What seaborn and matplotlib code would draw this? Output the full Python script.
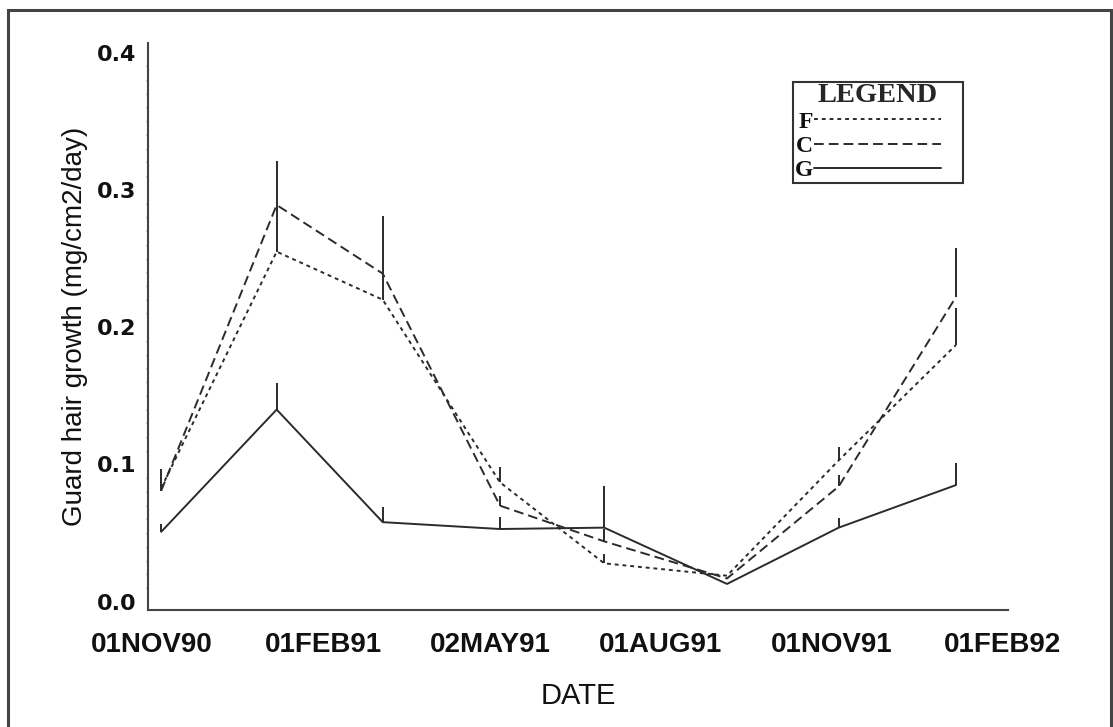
import matplotlib
matplotlib.use("Agg")
import numpy as np
import pandas as pd
import seaborn as sns
import matplotlib.pyplot as plt
import matplotlib.dates as mdates
from matplotlib.lines import Line2D
from matplotlib.patches import Rectangle
from matplotlib.ticker import MultipleLocator

# ---- data ----
sample_dates = ["1990-11-06", "1991-01-07", "1991-03-05", "1991-05-07",
                "1991-07-02", "1991-09-06", "1991-11-05", "1992-01-07"]
f_mean = [0.083, 0.255, 0.220, 0.087, 0.028, 0.019, 0.103, 0.187]
f_upper = [0.097, 0.289, 0.238, 0.098, 0.035, 0.019, 0.113, 0.214]
c_mean = [0.081, 0.289, 0.239, 0.070, 0.044, 0.017, 0.084, 0.222]
c_upper = [0.090, 0.321, 0.281, 0.077, 0.053, 0.017, 0.092, 0.258]
g_mean = [0.051, 0.140, 0.058, 0.053, 0.054, 0.013, 0.054, 0.085]
g_upper = [0.057, 0.159, 0.069, 0.062, 0.084, 0.013, 0.061, 0.101]
groups = ["F", "C", "G"]

tick_dates = ["1990-11-01", "1991-02-01", "1991-05-02", "1991-08-01",
              "1991-11-01", "1992-02-01"]
tick_labels = ["01NOV90", "01FEB91", "02MAY91", "01AUG91", "01NOV91", "01FEB92"]
y_ticks = [0.0, 0.1, 0.2, 0.3, 0.4]

means = {"F": f_mean, "C": c_mean, "G": g_mean}
uppers = {"F": f_upper, "C": c_upper, "G": g_upper}

rows = []
for g in groups:
    for d, m, u in zip(sample_dates, means[g], uppers[g]):
        rows.append({"date": pd.Timestamp(d), "value": m, "upper": u, "group": g})
df = pd.DataFrame(rows)

# ---- style ----
sns.set_theme(style="white")
plt.rcParams["font.family"] = ["Liberation Sans", "DejaVu Sans"]

line_col = "#2b2b2b"
lw = 1.4
dash_map = {"F": (2.0, 2.0), "C": (5.0, 2.6), "G": ""}

fig = plt.figure(figsize=(11.13, 7.27), dpi=100)
ax = fig.add_axes([0.1332, 0.1609, 0.9057 - 0.1332, 0.9409 - 0.1609])

sns.lineplot(data=df, x="date", y="value", style="group", dashes=dash_map,
             color=line_col, linewidth=lw, legend=False, estimator=None,
             sort=True, ax=ax)

for g in groups:
    sub = df[df["group"] == g]
    lower = np.zeros(len(sub))
    up = (sub["upper"] - sub["value"]).to_numpy()
    ax.errorbar(sub["date"], sub["value"], yerr=[lower, up], fmt="none",
                ecolor=line_col, elinewidth=lw, capsize=0)

# ---- axes ----
ax.set_xlim(pd.Timestamp("1990-10-30"), pd.Timestamp("1992-02-04"))
ax.set_ylim(-0.006, 0.407)
ax.set_xticks([mdates.date2num(pd.Timestamp(d)) for d in tick_dates])
ax.set_xticklabels(tick_labels)
ax.set_yticks(y_ticks)
ax.set_yticklabels([f"{v:.1f}" for v in y_ticks])
ax.yaxis.set_minor_locator(MultipleLocator(0.01))

for s in ["top", "right"]:
    ax.spines[s].set_visible(False)
for s in ["left", "bottom"]:
    ax.spines[s].set_color("#444444")
    ax.spines[s].set_linewidth(1.5)

ax.tick_params(axis="x", which="major", direction="out", length=6, width=1.3,
               color="#444444", pad=10, labelsize=20)
ax.tick_params(axis="y", which="major", direction="out", length=3.5, width=1,
               color="#555555", pad=5, labelsize=16)
ax.tick_params(axis="y", which="minor", direction="out", length=1.5, width=1,
               color="#888888", left=True)
for lab in ax.get_xticklabels():
    lab.set_fontweight("bold")
    lab.set_color("#111111")
for lab in ax.get_yticklabels():
    lab.set_fontweight("bold")
    lab.set_fontfamily("DejaVu Sans")
    lab.set_color("#111111")

ax.set_xlabel("DATE", fontsize=21, color="#111111", labelpad=17)
ax.set_ylabel("Guard hair growth (mg/cm2/day)", fontsize=20, color="#111111",
              labelpad=6)

# ---- legend ----
handles = [Line2D([0], [0], color=line_col, lw=lw, dashes=dash_map[g] if dash_map[g] else (None, None),
                  linestyle="--" if dash_map[g] else "-")
           for g in groups]
leg = ax.legend(handles, groups, title="LEGEND", loc="upper left",
                bbox_to_anchor=(0.7499, 0.9312, 0.1977, 0.0), mode="expand",
                borderaxespad=0,
                markerfirst=False, handlelength=5.4, handletextpad=0.05,
                labelspacing=0.12, borderpad=0.06, frameon=True,
                fancybox=False, framealpha=1,
                prop={"family": "Liberation Serif", "weight": "bold", "size": 17},
                title_fontproperties={"family": "Liberation Serif",
                                      "weight": "bold", "size": 20.5})
leg.get_frame().set_edgecolor("#333333")
leg.get_frame().set_linewidth(1.5)
for t in leg.get_texts():
    t.set_color("#111111")

# ---- outer frame ----
fig.patches.append(Rectangle((8 / 1113, -0.05), (1111 - 8) / 1113, 1.05 - 10 / 727,
                             transform=fig.transFigure, fill=False,
                             edgecolor="#444444", linewidth=2.2))

fig.savefig("out.png", dpi=100)
